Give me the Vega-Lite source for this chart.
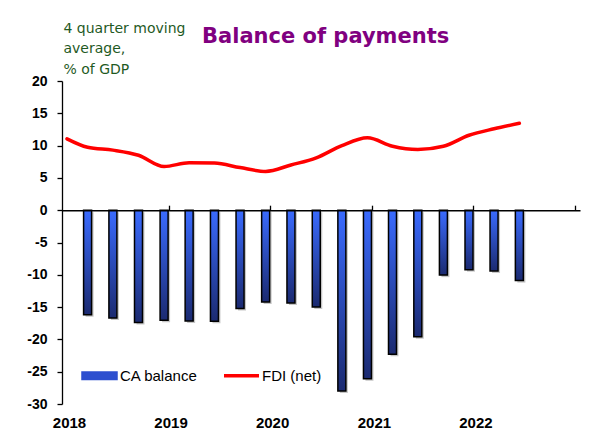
{
  "$schema": "https://vega.github.io/schema/vega-lite/v6.json",
  "width": 518,
  "height": 323,
  "autosize": "none",
  "padding": {"left": 62, "top": 81, "right": 32, "bottom": 44},
  "background": "white",
  "config": {"view": {"stroke": null}, "font": "Liberation Sans"},
  "title": {
    "text": "Balance of payments",
    "anchor": "start",
    "frame": "group",
    "dx": 140,
    "baseline": "alphabetic",
    "offset": -43,
    "font": "DejaVu Sans",
    "fontSize": 21,
    "fontWeight": "bold",
    "color": "#800080"
  },
  "datasets": {
    "ca": [
      {"date": "2018-03-16", "value": -16.2},
      {"date": "2018-06-15", "value": -16.7},
      {"date": "2018-09-15", "value": -17.4},
      {"date": "2018-12-16", "value": -17.05},
      {"date": "2019-03-16", "value": -17.15},
      {"date": "2019-06-15", "value": -17.2},
      {"date": "2019-09-15", "value": -15.2},
      {"date": "2019-12-16", "value": -14.2},
      {"date": "2020-03-16", "value": -14.35},
      {"date": "2020-06-15", "value": -15.0},
      {"date": "2020-09-15", "value": -28.0},
      {"date": "2020-12-16", "value": -26.1},
      {"date": "2021-03-16", "value": -22.3},
      {"date": "2021-06-15", "value": -19.6},
      {"date": "2021-09-15", "value": -10.05},
      {"date": "2021-12-16", "value": -9.2},
      {"date": "2022-03-16", "value": -9.4},
      {"date": "2022-06-15", "value": -10.9}
    ],
    "fdi": [
      {"date": "2018-01-01", "value": 11.05},
      {"date": "2018-03-16", "value": 9.75},
      {"date": "2018-06-15", "value": 9.3},
      {"date": "2018-09-15", "value": 8.5},
      {"date": "2018-12-16", "value": 6.75},
      {"date": "2019-03-16", "value": 7.35},
      {"date": "2019-06-15", "value": 7.3},
      {"date": "2019-09-15", "value": 6.6},
      {"date": "2019-12-16", "value": 6.0},
      {"date": "2020-03-16", "value": 7.0},
      {"date": "2020-06-15", "value": 8.1},
      {"date": "2020-09-15", "value": 10.0},
      {"date": "2020-12-16", "value": 11.2},
      {"date": "2021-03-16", "value": 9.9},
      {"date": "2021-06-15", "value": 9.4},
      {"date": "2021-09-15", "value": 9.9},
      {"date": "2021-12-16", "value": 11.6},
      {"date": "2022-03-16", "value": 12.6},
      {"date": "2022-06-15", "value": 13.45}
    ]
  },
  "encoding": {
    "y": {
      "field": "value",
      "type": "quantitative",
      "scale": {"domain": [-30, 20], "nice": false, "zero": false},
      "axis": {
        "values": [-30, -25, -20, -15, -10, -5, 0, 5, 10, 15, 20],
        "tickCount": 11,
        "labelExpr": "datum.value + ''",
        "labelFont": "Liberation Sans",
        "labelFontWeight": "bold",
        "labelFontSize": 14,
        "labelColor": "black",
        "labelPadding": 10,
        "labelOverlap": false,
        "tickSize": 5,
        "tickColor": "black",
        "tickWidth": 1.3,
        "domainColor": "black",
        "domainWidth": 1.3,
        "grid": false,
        "title": ["4 quarter moving", "average,", "% of GDP"],
        "titleFont": "DejaVu Sans",
        "titleFontSize": 14,
        "titleFontWeight": "normal",
        "titleColor": "#1f5a1f",
        "titleAngle": 0,
        "titleAlign": "left",
        "titleBaseline": "alphabetic",
        "titleX": 1,
        "titleY": -48.7,
        "titleLineHeight": 20.5
      }
    }
  },
  "layer": [
    {
      "data": {"name": "ca"},
      "mark": {"type": "bar", "size": 8, "fill": "#808080", "opacity": 0.45, "xOffset": 2, "yOffset": 2},
      "encoding": {
        "x": {
          "field": "date",
          "type": "temporal",
          "scale": {"type": "utc", "domain": [{"year": 2018, "month": 1, "date": 1, "utc": true}, {"year": 2023, "month": 1, "date": 1, "utc": true}]},
          "axis": {
            "orient": "bottom",
            "offset": -193.8,
            "title": null,
            "labels": false,
            "grid": false,
            "domain": true,
            "domainColor": "black",
            "domainWidth": 1.5,
            "ticks": true,
            "tickColor": "black",
            "tickWidth": 1.3,
            "tickSize": -5,
            "zindex": 1,
            "values": [
              {"year": 2019, "month": 1, "date": 1, "utc": true},
              {"year": 2020, "month": 1, "date": 1, "utc": true},
              {"year": 2021, "month": 1, "date": 1, "utc": true},
              {"year": 2022, "month": 1, "date": 1, "utc": true},
              {"year": 2023, "month": 1, "date": 1, "utc": true}
            ]
          }
        }
      }
    },
    {
      "data": {"name": "ca"},
      "mark": {
        "type": "bar",
        "size": 8,
        "stroke": "black",
        "strokeWidth": 1.5,
        "fill": {
          "gradient": "linear",
          "x1": 0, "y1": 0, "x2": 0, "y2": 1,
          "stops": [
            {"offset": 0, "color": "#3a6bff"},
            {"offset": 1, "color": "#1b2a70"}
          ]
        }
      },
      "encoding": {
        "x": {"field": "date", "type": "temporal", "axis": null}
      }
    },
    {
      "data": {"name": "fdi"},
      "mark": {"type": "line", "interpolate": "monotone", "strokeWidth": 3.5, "strokeCap": "round"},
      "encoding": {
        "x": {
          "field": "date",
          "type": "temporal",
          "axis": {
            "orient": "bottom",
            "title": null,
            "domain": false,
            "ticks": false,
            "grid": false,
            "format": "%Y",
            "labelFont": "Liberation Sans",
            "labelFontWeight": "bold",
            "labelFontSize": 15,
            "labelColor": "black",
            "labelPadding": 18,
            "labelBaseline": "middle",
            "labelOffset": 2,
            "labelFlush": false,
            "labelOverlap": false,
            "values": [
              {"year": 2018, "month": 1, "date": 1, "utc": true},
              {"year": 2019, "month": 1, "date": 1, "utc": true},
              {"year": 2020, "month": 1, "date": 1, "utc": true},
              {"year": 2021, "month": 1, "date": 1, "utc": true},
              {"year": 2022, "month": 1, "date": 1, "utc": true}
            ]
          }
        },
        "color": {
          "datum": "FDI (net)",
          "scale": {"domain": ["CA balance", "FDI (net)"], "range": ["#2d4fcf", "#ff0000"]},
          "legend": {
            "orient": "none",
            "legendX": 30,
            "legendY": 287,
            "direction": "horizontal",
            "title": null,
            "padding": 0,
            "symbolSize": 1225,
            "labelFont": "Liberation Sans",
            "labelFontSize": 15,
            "labelColor": "black",
            "labelOffset": 13,
            "columnPadding": 19,
            "encode": {
              "symbols": {
                "update": {
                  "shape": {"signal": "datum.value === 'CA balance' ? 'M-1,-0.22H1V0.22H-1Z' : 'M-1,0H1'"},
                  "fill": {"signal": "datum.value === 'CA balance' ? '#2d4fcf' : 'transparent'"},
                  "stroke": {"signal": "datum.value === 'CA balance' ? '#000000' : '#ff0000'"},
                  "strokeWidth": {"signal": "datum.value === 'CA balance' ? 1.5 : 3.5"}
                }
              }
            }
          }
        }
      }
    }
  ],
  "resolve": {"axis": {"x": "independent"}}
}
